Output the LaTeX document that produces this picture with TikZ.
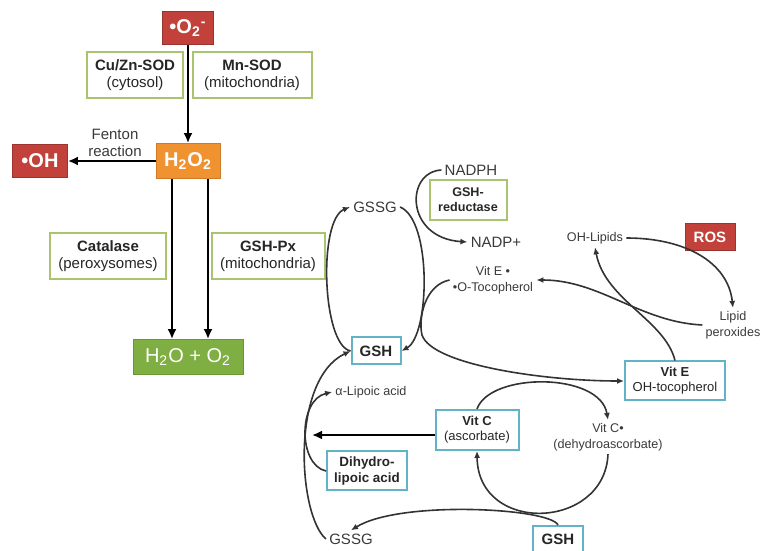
\documentclass[tikz,border=0pt]{standalone}
\usepackage{fontspec}
\setmainfont{Liberation Sans}
\usetikzlibrary{arrows.meta}
\definecolor{rosred}{HTML}{C2413A}
\definecolor{hporange}{HTML}{F0922F}
\definecolor{watgreen}{HTML}{7FAE42}
\definecolor{enzgreen}{HTML}{A9C46E}
\definecolor{vitblue}{HTML}{62B3C6}
\definecolor{lblgray}{HTML}{3A3A3A}
\tikzset{ rbox/.style = { rectangle
                        , fill         = rosred
                        , draw         = rosred!80!black
                        , text         = white
                        , inner sep    = 0pt
                        , font         = \fontsize{10}{11}\selectfont\bfseries
                        },
          ebox/.style = { rectangle
                        , draw         = enzgreen
                        , line width   = 1pt
                        , fill         = white
                        , align        = center
                        , inner sep    = 0pt
                        , text         = black!85
                        , font         = \fontsize{7.5}{8.4}\selectfont
                        },
          vbox/.style = { rectangle
                        , draw         = vitblue
                        , line width   = 1pt
                        , fill         = white
                        , align        = center
                        , inner sep    = 0pt
                        , text         = black!85
                        , font         = \fontsize{6.5}{7.6}\selectfont
                        },
          lbl/.style  = { align        = center
                        , inner sep    = 1.5pt
                        , text         = lblgray
                        , font         = \fontsize{6.3}{7.8}\selectfont
                        },
          big/.style  = { font         = \fontsize{7.5}{8.4}\selectfont },
          tar/.style  = { line width   = 1.4pt
                        , -{Latex[length=5pt,width=4.5pt]}
                        },
          ar/.style   = { line width   = 0.8pt
                        , black!80
                        , -{Latex[length=3.5pt,width=3pt]}
                        }
        }
\begin{document}
\begin{tikzpicture}[x=0.5pt,y=-0.5pt]
    \useasboundingbox (0,0) rectangle (762,551);
    % superoxide branch
    \node[rbox, minimum width=25.5pt, minimum height=16.5pt] (o2) at (188,28)
        {•O\textsubscript{2}\textsuperscript{-}};
    \node[ebox, minimum width=48pt, minimum height=23pt] (sod1) at (135,75)
        {\textbf{Cu/Zn-SOD}\\(cytosol)};
    \node[ebox, minimum width=59.5pt, minimum height=23pt] (sod2) at (252,75)
        {\textbf{Mn-SOD}\\(mitochondria)};
    \node[rbox, fill=hporange, draw=hporange!85!black,
          minimum width=32pt, minimum height=17.5pt] (h2o2) at (188,161)
        {H\textsubscript{2}O\textsubscript{2}};
    \node[rbox, minimum width=27.5pt, minimum height=16.5pt] (oh) at (40,161) {•OH};
    \node[lbl, big] (fen) at (115,143) {Fenton\\reaction};
    \node[ebox, minimum width=58pt, minimum height=23pt] (cat) at (108,256)
        {\textbf{Catalase}\\(peroxysomes)};
    \node[ebox, minimum width=56.5pt, minimum height=23pt] (gpx) at (268,256)
        {\textbf{GSH-Px}\\(mitochondria)};
    \node[rbox, fill=watgreen, draw=watgreen!85!black, font=\fontsize{10}{11}\selectfont,
          minimum width=55pt, minimum height=17.5pt] (wat) at (188,357)
        {H\textsubscript{2}O + O\textsubscript{2}};

    \draw[tar] (o2) -- (h2o2);
    \draw[tar] (h2o2) -- (oh);
    \draw[tar] ([xshift=-8pt]h2o2.south) -- ([xshift=-8pt]wat.north);
    \draw[tar] ([xshift=10pt]h2o2.south) -- ([xshift=10pt]wat.north);

    % glutathione and vitamins
    \node[lbl, big] (nadph) at (471,170) {NADPH};
    \node[ebox, font=\fontsize{6.3}{7.4}\selectfont\bfseries,
          minimum width=38.5pt, minimum height=20pt] (gr) at (468,200)
        {GSH-\\reductase};
    \node[lbl, big] (gssga) at (375,207) {GSSG};
    \node[lbl, big] (nadp) at (496,242) {NADP+};
    \node[lbl] (ohl) at (595,238) {OH-Lipids};
    \node[rbox, font=\fontsize{7.5}{8.4}\selectfont\bfseries,
          minimum width=25pt, minimum height=13.5pt] (ros) at (710,237) {ROS};
    \node[lbl] (vitr) at (493,280) {Vit E •\\•O-Tocopherol};
    \node[lbl] (lip) at (733,325) {Lipid\\peroxides};
    \node[vbox, font=\fontsize{7.5}{8.4}\selectfont\bfseries,
          minimum width=24.5pt, minimum height=13.5pt] (gsha) at (376,351) {GSH};
    \node[vbox, minimum width=50pt, minimum height=19.5pt] (vite) at (675,381)
        {\textbf{Vit E}\\OH-tocopherol};
    \node[lbl] (lipo) at (371,392) {α-Lipoic acid};
    \node[vbox, minimum width=41.5pt, minimum height=20pt] (vitc) at (477,430)
        {\textbf{Vit C}\\(ascorbate)};
    \node[lbl] (vitcr) at (608,437) {Vit C•\\(dehydroascorbate)};
    \node[vbox, font=\fontsize{6.7}{7.8}\selectfont\bfseries,
          minimum width=40pt, minimum height=19.5pt] (dhl) at (367,471)
        {Dihydro-\\lipoic acid};
    \node[lbl, big] (gssgb) at (351,539) {GSSG};
    \node[vbox, font=\fontsize{7.5}{8.4}\selectfont\bfseries,
          minimum width=25pt, minimum height=13pt] (gshb) at (558,539) {GSH};
    \coordinate (vctip) at (312,430);

    \draw[ar] (gsha.west) .. controls (322,345) and (318,220) .. (gssga.west);
    \draw[ar] (gssga.east) .. controls (432,220) and (430,335) .. (gsha.east);
    \draw[ar] (nadph.west) .. controls (405,172) and (405,238) .. (nadp.west);
    \draw[ar] (vitr.west) .. controls (425,285) and (418,318) .. (422,335)
        .. controls (432,365) and (545,381) .. (vite.west);
    \draw[ar] (vite.north) .. controls (665,320) and (605,300) .. (ohl.south);
    \draw[ar] (lip.west) .. controls (640,322) and (600,280) .. (vitr.east);
    \draw[ar] (ohl.east) .. controls (685,238) and (728,262) .. (lip.north);
    \draw[ar] (vitc.north) .. controls (490,372) and (600,372) .. (vitcr.north);
    \draw[ar] (vitcr.south) .. controls (605,530) and (478,535) .. (vitc.south);
    \draw[ar] (gshb.north) .. controls (550,508) and (400,500) .. (gssgb.north);
    \draw[ar] (dhl.west) .. controls (298,465) and (298,400) .. (lipo.west);
    \draw[ar] (gssgb.west) .. controls (298,515) and (290,380) .. (gsha.west);
    \draw[tar] ([yshift=-2.5pt]vitc.west) -- ([yshift=-2.5pt]vctip);
\end{tikzpicture}
\end{document}
